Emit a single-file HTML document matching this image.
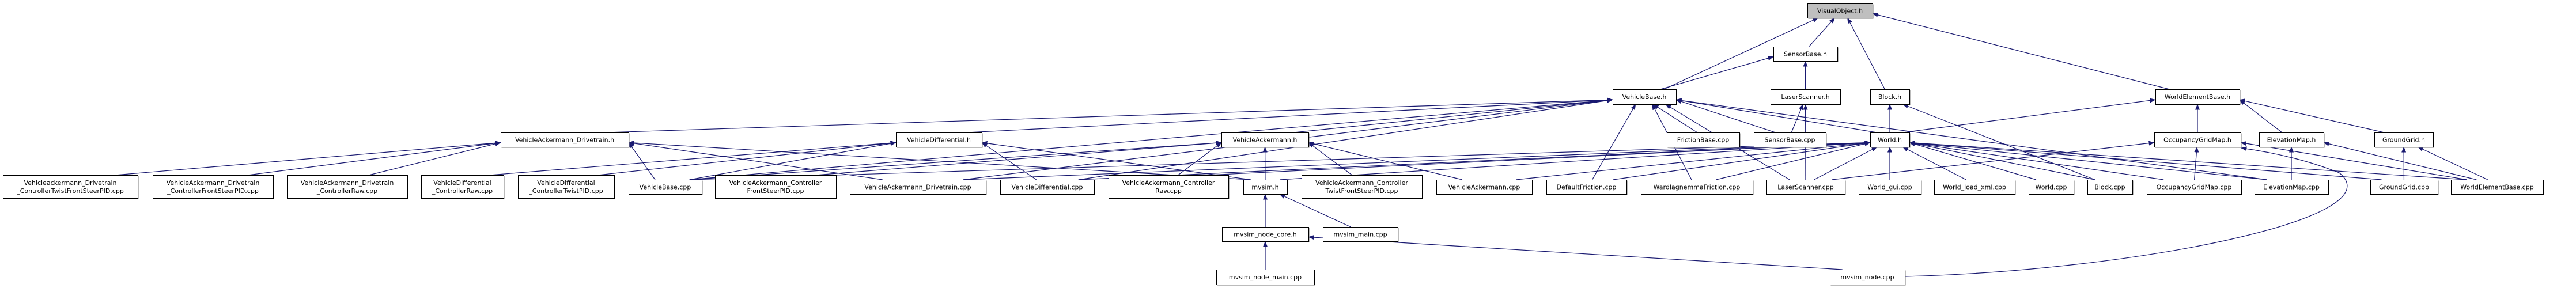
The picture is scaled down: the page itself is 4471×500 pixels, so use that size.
<!DOCTYPE html>
<html><head><meta charset="utf-8">
<style>
html,body{margin:0;padding:0;background:#fff;}
svg{display:block;}
text{font-family:"DejaVu Sans","Liberation Sans",sans-serif;font-size:11px;fill:#000;}
</style></head>
<body>
<svg id="g" xmlns="http://www.w3.org/2000/svg" width="4471" height="500" viewBox="0 0 4471 500">
<defs>
<marker id="ah" markerWidth="10" markerHeight="8" refX="9.5" refY="4" orient="auto" markerUnits="userSpaceOnUse">
<path d="M0,0 L10,4 L0,8 z" fill="#191970"/>
</marker>
</defs>
<g id="edges"></g>
<g id="nodes"></g>
</svg>
<script>
var N={
VO:[3137,6,113,25,["VisualObject.h"],1],
SBh:[3078,81,111,25,["SensorBase.h"]],
VBh:[2799,155,110,26,["VehicleBase.h"]],
LSh:[3073,155,121,26,["LaserScanner.h"]],
Bh:[3246,155,68,26,["Block.h"]],
WEBh:[3741,155,146,26,["WorldElementBase.h"]],
VADh:[869,230,222,25,["VehicleAckermann_Drivetrain.h"]],
VDh:[1555,230,149,25,["VehicleDifferential.h"]],
VAh:[2120,230,151,25,["VehicleAckermann.h"]],
FBc:[2893,230,126,25,["FrictionBase.cpp"]],
SBc:[3044,230,125,25,["SensorBase.cpp"]],
Wh:[3246,230,68,25,["World.h"]],
OGh:[3739,230,150,25,["OccupancyGridMap.h"]],
EMh:[3921,230,112,25,["ElevationMap.h"]],
GGh:[4121,230,102,25,["GroundGrid.h"]],
c1:[5,304,234,40,["Vehicleackermann_Drivetrain","_ControllerTwistFrontSteerPID.cpp"]],
c2:[265,304,209,40,["VehicleAckermann_Drivetrain","_ControllerFrontSteerPID.cpp"]],
c3:[498,304,209,40,["VehicleAckermann_Drivetrain","_ControllerRaw.cpp"]],
c4:[731,304,143,40,["VehicleDifferential","_ControllerRaw.cpp"]],
c5:[899,304,167,40,["VehicleDifferential","_ControllerTwistPID.cpp"]],
VBc:[1091,312,127,25,["VehicleBase.cpp"]],
c6:[1241,304,210,40,["VehicleAckermann_Controller","FrontSteerPID.cpp"]],
VADc:[1475,312,236,25,["VehicleAckermann_Drivetrain.cpp"]],
VDc:[1736,312,163,25,["VehicleDifferential.cpp"]],
c7:[1924,304,208,40,["VehicleAckermann_Controller","Raw.cpp"]],
MVh:[2158,312,76,25,["mvsim.h"]],
c8:[2259,304,209,40,["VehicleAckermann_Controller","TwistFrontSteerPID.cpp"]],
VAc:[2493,312,166,25,["VehicleAckermann.cpp"]],
DFc:[2684,312,139,25,["DefaultFriction.cpp"]],
WIc:[2848,312,194,25,["WardIagnemmaFriction.cpp"]],
LSc:[3066,312,136,25,["LaserScanner.cpp"]],
WGc:[3226,312,108,25,["World_gui.cpp"]],
WLc:[3357,312,140,25,["World_load_xml.cpp"]],
Wc:[3521,312,78,25,["World.cpp"]],
Bc:[3623,312,78,25,["Block.cpp"]],
OGc:[3726,312,164,25,["OccupancyGridMap.cpp"]],
EMc:[3913,312,128,25,["ElevationMap.cpp"]],
GGc:[4114,312,117,25,["GroundGrid.cpp"]],
WEBc:[4254,312,160,25,["WorldElementBase.cpp"]],
MNCh:[2121,394,150,25,["mvsim_node_core.h"]],
MMc:[2296,394,130,25,["mvsim_main.cpp"]],
MNMc:[2111,468,170,26,["mvsim_node_main.cpp"]],
MNc:[3176,468,130,26,["mvsim_node.cpp"]]
};
var E=[
["VO","VBh"],["VO","SBh"],["VO","Bh"],["VO","WEBh"],
["SBh","VBh"],["SBh","LSh"],
["VBh","VADh"],["VBh","VDh"],["VBh","VAh"],["VBh","VBc"],["VBh","FBc"],["VBh","SBc"],["VBh","Wh"],["VBh","DFc"],["VBh","WIc"],["VBh","LSc"],["VBh","EMc"],["VBh","VADc"],["VBh","VDc"],
["LSh","SBc"],["LSh","LSc"],
["Bh","Wh"],["Bh","Bc"],
["WEBh","Wh"],["WEBh","OGh"],["WEBh","EMh"],["WEBh","GGh"],
["Wh","VBc"],["Wh","MVh"],["Wh","VAc"],["Wh","DFc"],["Wh","WIc"],["Wh","LSc"],["Wh","WGc"],["Wh","WLc"],["Wh","Wc"],["Wh","Bc"],["Wh","OGc"],["Wh","EMc"],["Wh","GGc"],["Wh","WEBc"],["Wh","VADc"],["Wh","VDc"],["Wh","c7"],
["OGh","OGc"],["OGh","WEBc"],["OGh","LSc"],
["EMh","EMc"],["EMh","WEBc"],
["GGh","GGc"],["GGh","WEBc"],
["VADh","c1"],["VADh","c2"],["VADh","c3"],["VADh","VBc"],["VADh","VADc"],["VADh","MVh"],
["VDh","c4"],["VDh","c5"],["VDh","VBc"],["VDh","VDc"],["VDh","MVh"],
["VAh","VBc"],["VAh","c6"],["VAh","c7"],["VAh","c8"],["VAh","VAc"],["VAh","MVh"],
["MVh","MNCh"],["MVh","MMc"],
["MNCh","MNMc"],["MNCh","MNc"]
];
var ns="http://www.w3.org/2000/svg";
var eg=document.getElementById("edges"),ng=document.getElementById("nodes");
function el(t,a,p){var e=document.createElementNS(ns,t);for(var k in a)e.setAttribute(k,a[k]);p.appendChild(e);return e;}
E.forEach(function(e){
 var p=N[e[0]],c=N[e[1]];
 var pcx=p[0]+p[2]/2,ccx=c[0]+c[2]/2;
 var dx=ccx-pcx,dy=c[1]-(p[1]+p[3]);
 var px,py;
 if(Math.abs(dx)>3*Math.max(dy,1)&&Math.abs(dx)>p[2]/2){
   px=dx>0?p[0]+p[2]:p[0]; py=p[1]+p[3]*0.7;
 } else {
   px=pcx+Math.max(-p[2]/3,Math.min(p[2]/3,dx*0.15)); py=p[1]+p[3];
 }
 var cx=ccx+Math.max(-c[2]/3,Math.min(c[2]/3,-dx*0.1)),cy=c[1];
 if(e[0]=="OGh"&&e[1]=="MNc"){
  el("path",{d:"M3306,480 C3700,470 4160,380 4060,300 C4010,280 3950,265 3890,257",fill:"none",stroke:"#191970","stroke-width":"1.2","marker-end":"url(#ah)"},eg);
  return;
 }
 el("line",{x1:cx,y1:cy,x2:px,y2:py,stroke:"#191970","stroke-width":"1.2","marker-end":"url(#ah)"},eg);
});
el("path",{d:"M3306,480 C3700,470 4160,380 4060,300 C4010,280 3950,265 3890,257",fill:"none",stroke:"#191970","stroke-width":"1.2","marker-end":"url(#ah)"},eg);
for(var k in N){
 var n=N[k];
 el("rect",{x:n[0]+1.5,y:n[1]+1.5,width:n[2],height:n[3],fill:"#777"},ng);
 el("rect",{x:n[0]+0.5,y:n[1]+0.5,width:n[2],height:n[3],fill:n[5]?"#bfbfbf":"#fff",stroke:"#000","stroke-width":"1"},ng);
 var L=n[4];
 for(var i=0;i<L.length;i++){
  var ty=n[1]+n[3]/2+4+(i-(L.length-1)/2)*14;
  var t=el("text",{x:n[0]+n[2]/2,y:ty,"text-anchor":"middle"},ng);
  t.textContent=L[i];
 }
}
</script>
</body></html>
